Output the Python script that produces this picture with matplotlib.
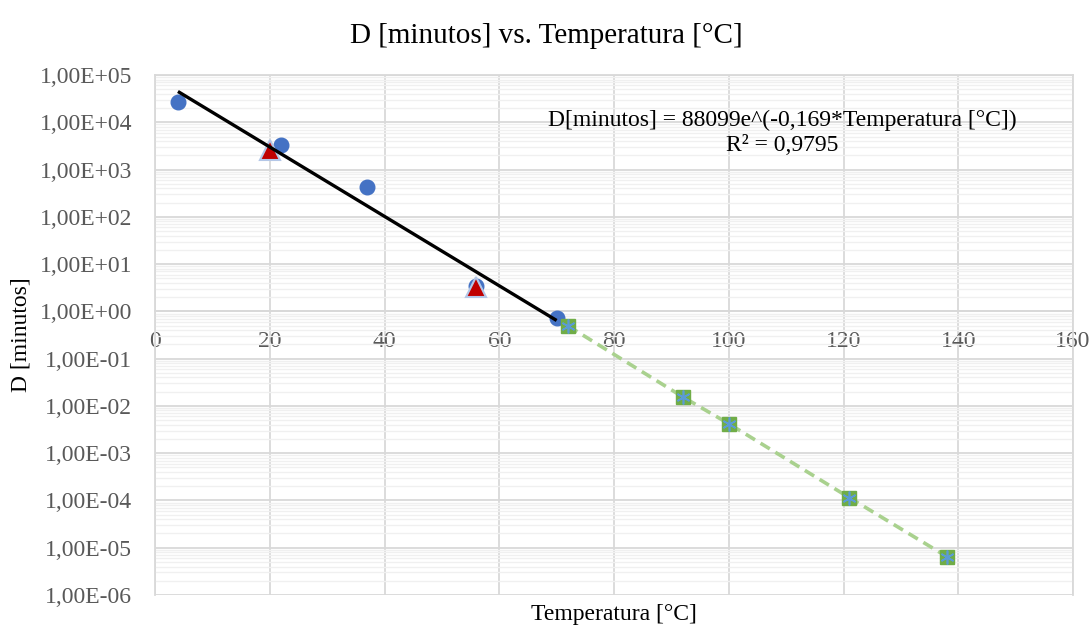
import matplotlib
matplotlib.use("Agg")
import matplotlib.pyplot as plt
import numpy as np
from matplotlib.ticker import FixedLocator, FuncFormatter, LogLocator, NullFormatter

# ---- data ----
blue_x = [4, 22, 37, 56, 70]
blue_y = [2.7e4, 3.3e3, 4.3e2, 3.4, 0.72]
red_x = [20, 56]
red_y = [2.6e3, 3.3]
green_x = [72, 92, 100, 121, 138]
green_y = [0.49, 0.0155, 0.0042, 1.15e-4, 6.5e-6]
trend_a = 88099
trend_b = -0.169
trend_range = [4, 70]
title = "D [minutos] vs. Temperatura [°C]"
xlabel = "Temperatura [°C]"
ylabel = "D [minutos]"
eq_text = "D[minutos] = 88099e^(-0,169*Temperatura [°C])\nR² = 0,9795"
x_ticks = [0, 20, 40, 60, 80, 100, 120, 140, 160]
y_exps = list(range(-6, 6))

plt.rcParams['font.family'] = ['Liberation Serif', 'DejaVu Serif']

fig = plt.figure(figsize=(10.92, 6.26), dpi=100)
ax = fig.add_axes([155/1092, 1-595/626, (1073-155)/1092, (595-75)/626])

ax.set_yscale('log')
ax.set_xlim(0, 160)
ax.set_ylim(1e-6, 1e5)

# gridlines
ax.yaxis.set_major_locator(FixedLocator([10.0**e for e in y_exps]))
ax.yaxis.set_minor_locator(LogLocator(base=10, subs=np.arange(2, 10), numticks=100))
ax.yaxis.set_minor_formatter(NullFormatter())
ax.xaxis.set_major_locator(FixedLocator(x_ticks))
ax.grid(True, which='major', color='#D9D9D9', lw=1.3, zorder=0)
ax.grid(True, which='minor', axis='y', color='#F0F0F0', lw=1.0, zorder=0)
ax.set_axisbelow(True)

def yfmt(v, pos):
    e = int(round(np.log10(v)))
    return "1,00E{}{:02d}".format('+' if e >= 0 else '-', abs(e))
ax.yaxis.set_major_formatter(FuncFormatter(yfmt))

for s in ['top', 'right', 'left']:
    ax.spines[s].set_color('#D9D9D9')
    ax.spines[s].set_linewidth(1.3)
ax.spines['bottom'].set_position(('data', 1))
ax.spines['bottom'].set_color('#D9D9D9')
ax.spines['bottom'].set_linewidth(1.3)
ax.tick_params(axis='both', which='both', length=0, labelcolor='#595959', labelsize=17)
ax.tick_params(axis='x', pad=14)
ax.tick_params(axis='y', pad=16.5)

# trendline
tx = np.linspace(trend_range[0], trend_range[1], 100)
ax.plot(tx, trend_a*np.exp(trend_b*tx), color='black', lw=2.4, zorder=5, solid_capstyle='butt')

# series
ax.plot(green_x, green_y, color='#A9D18E', lw=2.6, ls=(0, (3, 1.8)), zorder=3)
ax.plot(blue_x, blue_y, 'o', color='#4472C4', ms=10.5, mec='#4472C4', lw=0, zorder=4)
ax.plot(red_x, red_y, '^', color='#C00000', ms=14, mec='#B4C7E7', mew=1.5, lw=0, zorder=4)
ax.plot(green_x, green_y, 's', color='#70AD47', ms=10, mec='#70AD47', lw=0, zorder=4)
ax.plot(green_x, green_y, marker=(6, 2, 0), color='#5B9BD5', ms=10, mew=1.2, lw=0, zorder=4)

fig.text(0.5, 1-43/626, title, fontsize=21, ha='center', va='baseline', color='#000000')
ax.set_xlabel(xlabel, fontsize=17)
ax.xaxis.set_label_coords(0.5, -0.0165, transform=ax.transAxes)
ax.xaxis.label.set_verticalalignment('top')
ax.set_ylabel(ylabel, fontsize=17)
ax.yaxis.set_label_coords(-0.134, 0.5)

ax.text(0.683, 1-(133-75)/520, eq_text, transform=ax.transAxes, ha='center', va='center',
        fontsize=17, linespacing=1.2)

fig.savefig('out.png', dpi=100)
